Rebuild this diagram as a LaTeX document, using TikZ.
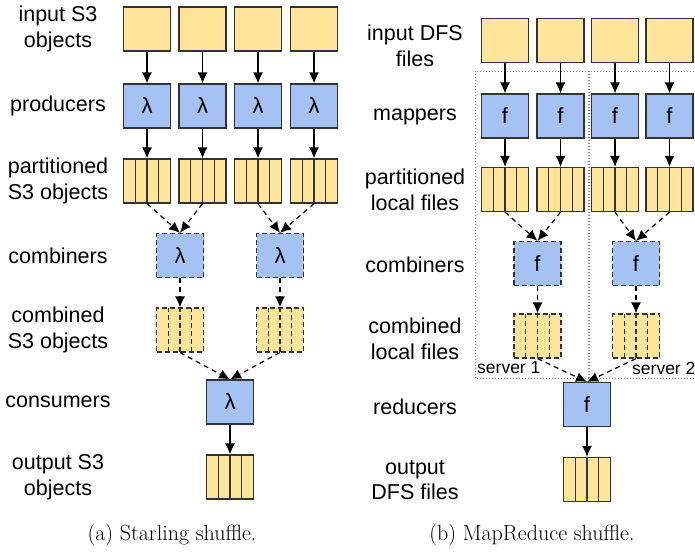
\documentclass[tikz,border=0pt]{standalone}
\usepackage{fontspec}
\newfontfamily\labelfont{Liberation Sans}
\usetikzlibrary{arrows.meta,calc}
\definecolor{objyellow}{HTML}{FFE599}
\definecolor{fnblue}{HTML}{A4C2F4}
\definecolor{edgegray}{HTML}{333333}
\tikzset{
  box/.style={draw=edgegray, line width=1.2pt, minimum width=47pt, minimum height=44pt,
    inner sep=0pt, font=\labelfont\fontsize{22}{25}\selectfont},
  obj/.style={box, fill=objyellow},
  fn/.style={box, fill=fnblue},
  parts/.style={obj, path picture={
    \foreach \t in {0.25,0.5,0.75}
      \draw[edgegray, line width=1.2pt, #1]
        ($(path picture bounding box.south west)!\t!(path picture bounding box.south east)$) --
        ($(path picture bounding box.north west)!\t!(path picture bounding box.north east)$);}},
  parts/.default={solid},
  loose/.style={dash pattern=on 5pt off 3pt},
  flow/.style={draw=black, line width=1.2pt, -{Latex[length=11pt,width=10pt]}},
  shuf/.style={flow, dash pattern=on 5pt off 4pt},
  lbl/.style={font=\labelfont\fontsize{21.5}{25.5}\selectfont, align=center},
  server/.style={draw=gray, line width=1pt, dash pattern=on 1pt off 2pt},
  caption/.style={font=\fontsize{22}{26}\selectfont}
}
\begin{document}
\begin{tikzpicture}[x=1pt, y=-1pt]
\useasboundingbox (0,0) rectangle (695,552);

% (a) Starling shuffle
\node[lbl] (la1) at (58,29) {input S3\\objects};
\node[lbl] (la2) at (58,106) {producers};
\node[lbl] (la3) at (58,181) {partitioned\\S3 objects};
\node[lbl] (la4) at (58,256) {combiners};
\node[lbl] (la5) at (58,330) {combined\\S3 objects};
\node[lbl] (la6) at (58,402) {consumers};
\node[lbl] (la7) at (58,477) {output S3\\objects};

\foreach \x [count=\i] in {147,202.5,258,314} {
  \node[obj] (sin\i) at (\x,29) {};
  \node[fn] (sprod\i) at (\x,106) {λ};
  \node[parts] (spart\i) at (\x,181) {};
  \draw[flow] (sin\i) -- (sprod\i);
  \draw[flow] (sprod\i) -- (spart\i);
}
\foreach \x [count=\i] in {180,280} {
  \node[fn, loose] (scomb\i) at (\x,255.5) {λ};
  \node[parts=loose, loose] (scmbd\i) at (\x,330) {};
  \draw[shuf] (scomb\i) -- (scmbd\i);
}
\node[fn] (scons) at (230,402) {λ};
\node[parts] (sout) at (230,477) {};

\draw[shuf] (spart1.south) -- (scomb1.north);
\draw[shuf] (spart2.south) -- (scomb1.north);
\draw[shuf] (spart3.south) -- (scomb2.north);
\draw[shuf] (spart4.south) -- (scomb2.north);
\draw[shuf] (scmbd1.south) -- (scons.north);
\draw[shuf] (scmbd2.south) -- (scons.north);
\draw[flow] (scons) -- (sout);

\node[caption] (capa) at (172,535) {(a) Starling shuffle.};

% (b) MapReduce shuffle
\draw[server] (475,71) rectangle (588,378);
\draw[server] (700,71) -| (589,378) -- (700,378);
\node[lbl, font=\labelfont\fontsize{17.5}{20}\selectfont, anchor=west, inner sep=0pt] (srv1) at (477,368) {server 1};
\node[lbl, font=\labelfont\fontsize{17.5}{20}\selectfont, anchor=west, inner sep=0pt] (srv2) at (632,368) {server 2};

\node[lbl] (lb1) at (415,46) {input DFS\\files};
\node[lbl] (lb2) at (415,117) {mappers};
\node[lbl] (lb3) at (415,190) {partitioned\\local files};
\node[lbl] (lb4) at (415,265) {combiners};
\node[lbl] (lb5) at (415,339) {combined\\local files};
\node[lbl] (lb6) at (415,407) {reducers};
\node[lbl] (lb7) at (415,480) {output\\DFS files};

\foreach \x [count=\i] in {505,560.5,615,669.5} {
  \node[obj] (min\i) at (\x,40.5) {};
  \node[fn] (mmap\i) at (\x,116) {f};
  \node[parts] (mpart\i) at (\x,189.5) {};
  \draw[flow] (min\i) -- (mmap\i);
  \draw[flow] (mmap\i) -- (mpart\i);
}
\foreach \x [count=\i] in {537.5,636} {
  \node[fn, loose] (mcomb\i) at (\x,263.5) {f};
  \node[parts=loose, loose] (mcmbd\i) at (\x,336) {};
  \draw[shuf] (mcomb\i) -- (mcmbd\i);
}
\node[fn] (mred) at (587,404.5) {f};
\node[parts] (mout) at (587,479.5) {};

\draw[shuf] (mpart1.south) -- (mcomb1.north);
\draw[shuf] (mpart2.south) -- (mcomb1.north);
\draw[shuf] (mpart3.south) -- (mcomb2.north);
\draw[shuf] (mpart4.south) -- (mcomb2.north);
\draw[shuf] (mcmbd1.south) -- (mred.north);
\draw[shuf] (mcmbd2.south) -- (mred.north);
\draw[flow] (mred) -- (mout);

\node[caption] (capb) at (532,535) {(b) MapReduce shuffle.};
\end{tikzpicture}
\end{document}
